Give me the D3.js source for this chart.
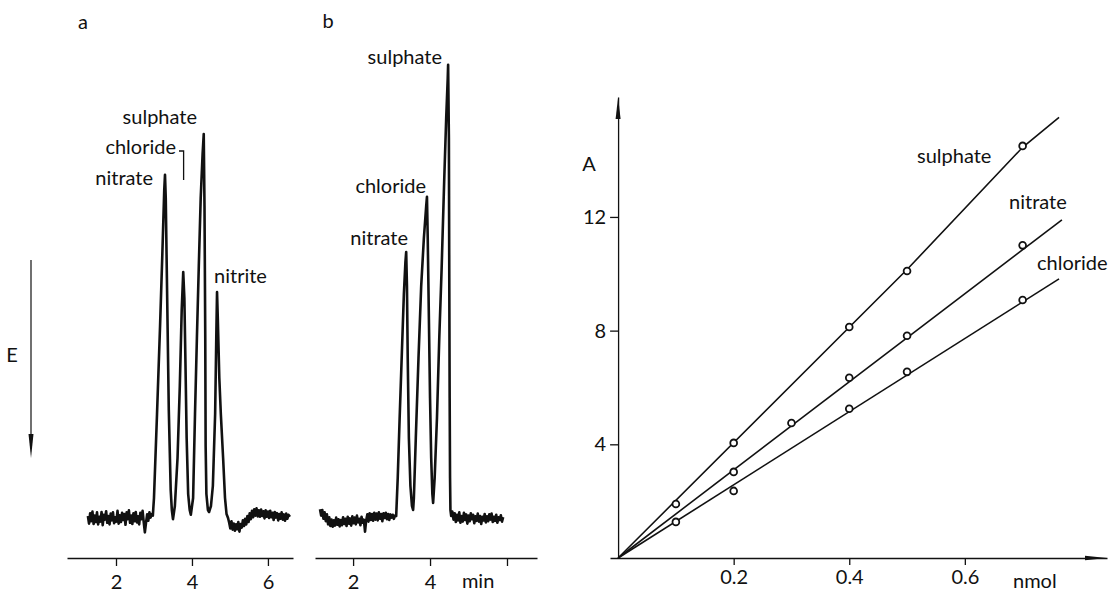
<!DOCTYPE html>
<html>
<head>
<meta charset="utf-8">
<script src="https://cdn.jsdelivr.net/npm/d3@7"></script>
<style>
  body { margin: 0; background: #fff; }
  svg text { font-family: Lato, "Open Sans", sans-serif; fill: #111; font-size: 20px; }
  .trace { fill: none; stroke: #111; stroke-width: 2.6; stroke-linejoin: round; }
  .fit { fill: none; stroke: #111; stroke-width: 1.6; }
  .pt { fill: #fff; stroke: #111; stroke-width: 1.8; }
  .axis path, .axis line { stroke: #111; stroke-width: 1.3; }
</style>
</head>
<body>
<svg id="chart" width="1113" height="592"></svg>
<script>
  // chromatogram a: [time (min), detector signal E (rel. units)]
  var chromA = [
    [1.26,0.5],[1.29,-1.4],[1.32,1.2],[1.35,-0.8],[1.38,1.6],[1.41,-1.5],[1.44,0.6],[1.47,-1.0],
    [1.50,1.4],[1.53,-1.6],[1.56,0.3],[1.59,-0.9],[1.62,1.5],[1.65,-1.8],[1.68,0.8],[1.71,-0.4],
    [1.74,1.7],[1.77,-1.2],[1.80,0.5],[1.83,-1.6],[1.86,1.1],[1.89,-0.6],[1.92,1.4],[1.95,-1.3],
    [1.98,0.2],[2.01,-0.9],[2.04,1.8],[2.07,-1.4],[2.10,0.7],[2.13,-1.0],[2.16,1.3],[2.19,-0.5],
    [2.22,1.0],[2.25,-1.7],[2.28,1.4],[2.31,-0.3],[2.34,1.9],[2.37,-1.2],[2.40,0.6],[2.43,-1.5],
    [2.46,1.2],[2.49,-0.8],[2.52,1.5],[2.55,-1.1],[2.58,0.4],[2.61,-1.6],[2.64,1.3],[2.67,-0.3],
    [2.70,1.8],[2.73,-1.0],[2.76,-3.6],[2.79,-1.2],[2.82,0.9],[2.85,-0.7],[2.88,1.4],[2.91,0.1],
    [2.94,1.0],[2.97,0.6],
    // nitrate
    [3.00,5],[3.08,26],[3.16,48],[3.22,66],[3.27,82],[3.29,85.8],[3.31,80],[3.34,60],
    [3.39,27],[3.44,7],[3.47,2],[3.50,-0.3],
    // chloride
    [3.55,3],[3.62,15],[3.68,33],[3.73,52],[3.77,61.5],[3.80,55],[3.83,38],[3.86,20],
    [3.90,6],[3.94,2],[3.97,0.8],
    // sulphate
    [4.03,5],[4.08,26],[4.13,45],[4.18,63],[4.23,80],[4.28,91],[4.31,96],[4.33,78],
    [4.35,45],[4.36,18],[4.38,6],[4.42,2],[4.45,1.5],
    // nitrite
    [4.50,3],[4.55,8],[4.61,26],[4.64,45],[4.66,56.5],[4.68,50],[4.72,35],[4.76,26],
    [4.82,15],[4.87,5],[4.91,1],[4.95,0],
    [4.98,-1.2],[5.01,-2.6],[5.04,-0.8],[5.07,-2.9],[5.10,-1.4],[5.13,-3.2],[5.16,-1.6],[5.19,-2.8],
    [5.22,-1.0],[5.25,-3.4],[5.28,-1.5],[5.31,-2.4],[5.34,-0.6],[5.37,-2.0],[5.40,-0.2],[5.43,-1.6],
    [5.46,0.5],[5.49,-1.0],[5.52,1.2],[5.55,-0.3],[5.58,1.8],[5.61,0.2],[5.64,2.2],[5.67,0.6],
    [5.70,2.4],[5.73,0.4],[5.76,1.9],[5.79,0.3],[5.82,2.1],[5.85,0.5],[5.88,1.7],[5.91,-0.1],
    [5.94,1.9],[5.97,0.3],[6.00,1.6],[6.03,0.0],[6.06,1.8],[6.09,0.2],[6.12,1.3],[6.15,-0.5],
    [6.18,1.5],[6.21,0.1],[6.24,1.2],[6.27,-0.6],[6.30,1.0],[6.33,-0.2],[6.36,1.4],[6.39,-0.4],
    [6.42,0.9],[6.45,-0.7],[6.48,1.1],[6.51,-0.2],[6.54,0.8],[6.58,0.3]
  ];

  // chromatogram b
  var chromB = [
    [1.14,2.2],[1.17,0.6],[1.20,2.0],[1.23,-0.2],[1.26,1.4],[1.29,-0.8],[1.32,0.9],[1.35,-1.6],
    [1.38,0.2],[1.41,-2.0],[1.44,-0.4],[1.47,-2.2],[1.50,-0.6],[1.53,-1.9],[1.56,0.1],[1.59,-1.7],
    [1.62,-0.3],[1.65,-2.1],[1.68,-0.5],[1.71,-1.8],[1.74,0.2],[1.77,-1.5],[1.80,-0.2],[1.83,-2.0],
    [1.86,0.3],[1.89,-1.4],[1.92,-0.1],[1.95,-1.9],[1.98,0.4],[2.01,-1.3],[2.04,0.1],[2.07,-1.6],
    [2.10,0.6],[2.13,-1.1],[2.16,-0.2],[2.19,-1.8],[2.22,0.3],[2.25,-1.2],[2.28,-0.4],[2.31,-3.4],
    [2.34,-0.6],[2.37,0.9],[2.40,-0.9],[2.43,1.2],[2.46,-0.5],[2.49,1.0],[2.52,-0.7],[2.55,1.3],
    [2.58,-0.4],[2.61,1.1],[2.64,-0.6],[2.67,1.4],[2.70,-0.2],[2.73,1.0],[2.76,-0.8],[2.79,1.2],
    [2.82,0.0],[2.85,1.3],[2.88,-0.3],[2.91,1.0],[2.94,-0.5],[2.97,0.9],[3.00,0.1],[3.03,0.8],
    [3.06,-0.2],[3.09,0.6],
    // nitrate
    [3.12,0.5],[3.16,10],[3.21,25],[3.27,42],[3.32,56],[3.36,64],[3.38,66.5],[3.40,58],
    [3.42,40],[3.45,20],[3.49,8],[3.53,3],[3.56,2],
    // chloride
    [3.58,5],[3.63,20],[3.70,40],[3.77,58],[3.84,70],[3.90,78],[3.92,80.3],[3.94,70],
    [3.97,50],[4.00,30],[4.03,15],[4.06,6],[4.08,3.75],
    // sulphate
    [4.12,10],[4.18,25],[4.24,45],[4.30,62],[4.37,85],[4.42,100],[4.46,110],[4.47,113.3],
    [4.49,95],[4.50,60],[4.51,30],[4.52,10],[4.53,2],[4.55,0.5],
    [4.58,1.6],[4.61,-0.4],[4.64,1.2],[4.67,-1.0],[4.70,0.8],[4.73,-0.6],[4.76,1.4],[4.79,-1.2],
    [4.82,0.5],[4.85,-0.9],[4.88,1.3],[4.91,-0.5],[4.94,0.9],[4.97,-1.4],[5.00,0.6],[5.03,-0.8],
    [5.06,1.2],[5.09,-0.3],[5.12,0.8],[5.15,-1.3],[5.18,0.4],[5.21,-0.7],[5.24,1.1],[5.27,-0.9],
    [5.30,0.5],[5.33,-1.5],[5.36,0.3],[5.39,-0.6],[5.42,1.0],[5.45,-1.1],[5.48,0.4],[5.51,-0.8],
    [5.54,0.9],[5.57,-0.4],[5.60,1.1],[5.63,-1.0],[5.66,0.3],[5.69,-0.7],[5.72,0.8],[5.75,-1.2],
    [5.78,0.2],[5.81,-0.5],[5.84,0.7],[5.87,-0.9],[5.90,0.2]
  ];

  var chromTicks = [2, 4, 6];
  var amountTicks = [0.2, 0.4, 0.6];
  var signalTicks = [4, 8, 12];

  // calibration points (nmol, A)
  var sulphateAmt = [0.1, 0.2, 0.4, 0.5, 0.7];
  var sulphateA   = [1.9, 4.05, 8.13, 10.1, 14.5];
  var nitrateAmt  = [0.2, 0.3, 0.4, 0.5, 0.7];
  var nitrateA    = [3.03, 4.75, 6.34, 7.82, 11.0];
  var chlorideAmt = [0.1, 0.2, 0.4, 0.5, 0.7];
  var chlorideA   = [1.27, 2.36, 5.25, 6.55, 9.08];

  // drawn calibration lines
  var sulphateFit = [[0, 0], [0.5, 10.15], [0.7, 14.45], [0.763, 15.5]];
  var nitrateFit  = [[0, 0], [0.768, 11.9]];
  var chlorideFit = [[0, 0], [0.763, 9.82]];

  var svg = d3.select('#chart');

  var xA = d3.scaleLinear().domain([0.71, 6.66]).range([67, 293]);
  var xB = d3.scaleLinear().domain([1.01, 6.78]).range([315, 537]);
  var yE = d3.scaleLinear().domain([0, 100]).range([518, 118]);
  var xN = d3.scaleLinear().domain([-0.014, 0.846]).range([610, 1107]);
  var yN = d3.scaleLinear().domain([0, 16.22]).range([558, 97]);

  function label(x, y, txt, anchor) {
    svg.append('text')
        .attr('x', x)
        .attr('y', y)
        .attr('text-anchor', anchor || 'start')
        .text(txt);
  }

  function arrowHead(x, y, dir, len, half) {
    // dir: 'up', 'down', 'right'
    var p;
    if (dir === 'up') p = [[x, y], [x - half, y + len], [x + half, y + len]];
    else if (dir === 'down') p = [[x, y], [x - half, y - len], [x + half, y - len]];
    else p = [[x, y], [x - len, y - half], [x - len, y + half]];
    svg.append('path')
        .attr('d', 'M' + p.join('L') + 'Z')
        .attr('fill', '#111');
  }

  function styleAxis(g) {
    g.attr('class', 'axis').attr('font-size', null).attr('font-family', null);
    g.selectAll('text').style('font-size', '20px');
  }

  // ---- chromatograms
  var lineA = d3.line().x(function(d) { return xA(d[0]); }).y(function(d) { return yE(d[1]); });
  var lineB = d3.line().x(function(d) { return xB(d[0]); }).y(function(d) { return yE(d[1]); });

  svg.append('path').datum(chromA).attr('class', 'trace').attr('d', lineA);
  svg.append('path').datum(chromB).attr('class', 'trace').attr('d', lineB);

  svg.append('g')
      .attr('transform', 'translate(0,558)')
      .call(d3.axisBottom(xA).tickValues(chromTicks).tickSize(8).tickSizeOuter(0).tickPadding(9)
          .tickFormat(d3.format('d')))
      .call(styleAxis);

  svg.append('g')
      .attr('transform', 'translate(0,558)')
      .call(d3.axisBottom(xB).tickValues(chromTicks).tickSize(8).tickSizeOuter(0).tickPadding(9)
          .tickFormat(function(d) { return d === 6 ? '' : d; }))
      .call(styleAxis);

  label(xB(5.25), 588, 'min', 'middle');

  // E arrow
  svg.append('line')
      .attr('x1', 31).attr('x2', 31).attr('y1', 260).attr('y2', 445)
      .attr('stroke', '#111').attr('stroke-width', 1.2);
  arrowHead(31, 458, 'down', 24, 2.5);
  label(12, 362, 'E', 'middle');

  // panel letters
  label(83, 29, 'a', 'middle');
  label(328, 28, 'b', 'middle');

  // peak labels a
  label(197, 124, 'sulphate', 'end');
  label(176, 154, 'chloride', 'end');
  label(153, 185, 'nitrate', 'end');
  label(214, 283, 'nitrite', 'start');
  svg.append('path')
      .attr('d', 'M179,151H' + xA(3.78) + 'V180')
      .attr('fill', 'none').attr('stroke', '#111').attr('stroke-width', 1.3);

  // peak labels b
  label(442, 64, 'sulphate', 'end');
  label(426, 193, 'chloride', 'end');
  label(408, 245, 'nitrate', 'end');

  // ---- calibration plot
  svg.append('g')
      .attr('transform', 'translate(0,558)')
      .call(d3.axisBottom(xN).tickValues(amountTicks).tickSize(7).tickSizeOuter(0).tickPadding(5)
          .tickFormat(d3.format('.1f')))
      .call(styleAxis);

  svg.append('g')
      .attr('transform', 'translate(' + xN(0) + ',0)')
      .call(d3.axisLeft(yN).tickValues(signalTicks).tickSize(8).tickSizeOuter(0).tickPadding(4))
      .call(styleAxis);

  arrowHead(xN(0), yN(16.22), 'up', 22, 2.5);
  arrowHead(xN(0.846), yN(0), 'right', 22, 2.2);

  label(589, 171, 'A', 'middle');
  label(1013, 588, 'nmol', 'start');

  var fitLine = d3.line().x(function(d) { return xN(d[0]); }).y(function(d) { return yN(d[1]); });
  [sulphateFit, nitrateFit, chlorideFit].forEach(function(f) {
    svg.append('path').datum(f).attr('class', 'fit').attr('d', fitLine);
  });

  [[sulphateAmt, sulphateA], [nitrateAmt, nitrateA], [chlorideAmt, chlorideA]].forEach(function(s) {
    svg.append('g').selectAll('circle')
        .data(d3.zip(s[0], s[1]))
        .enter()
        .append('circle')
        .attr('class', 'pt')
        .attr('cx', function(d) { return xN(d[0]); })
        .attr('cy', function(d) { return yN(d[1]); })
        .attr('r', 3.4);
  });

  label(917, 163, 'sulphate', 'start');
  label(1009, 209, 'nitrate', 'start');
  label(1037, 270, 'chloride', 'start');
</script>
</body>
</html>
